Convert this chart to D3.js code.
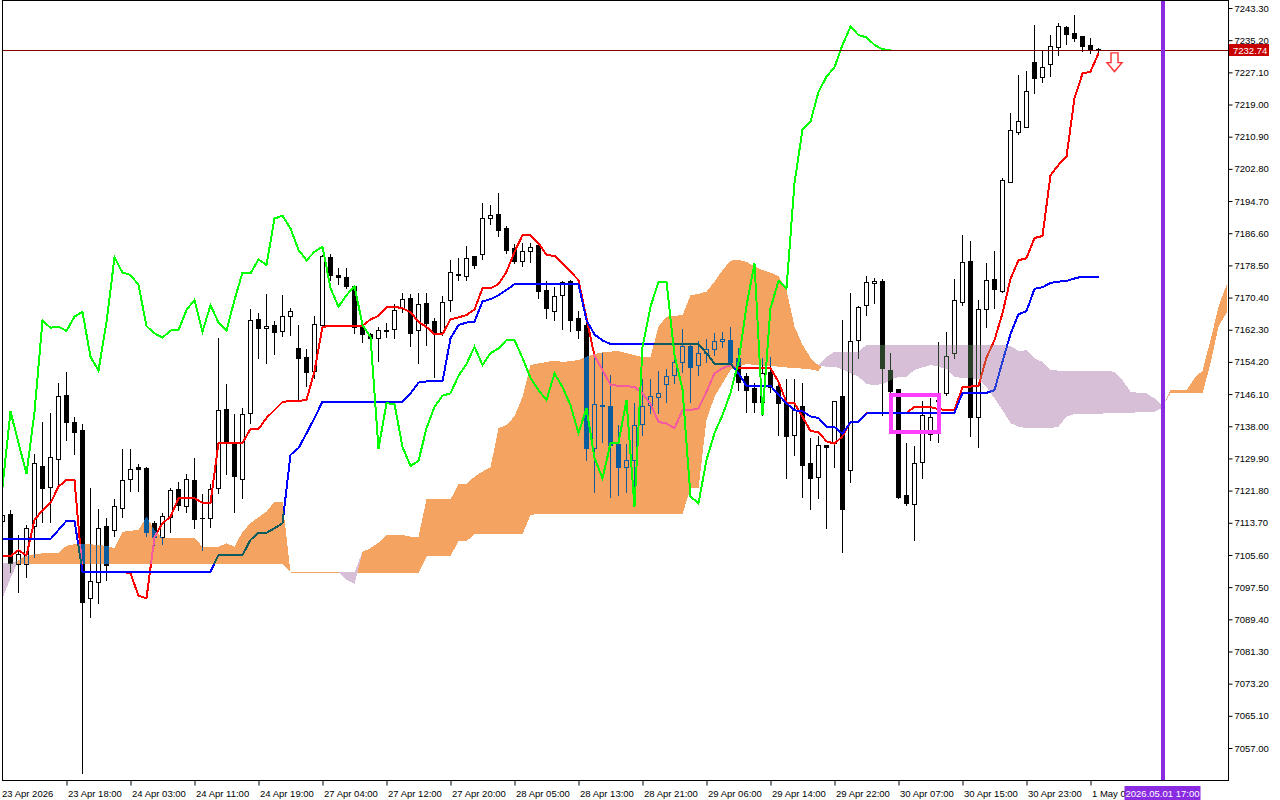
<!DOCTYPE html>
<html><head><meta charset="utf-8">
<script src="https://cdn.jsdelivr.net/npm/d3@7"></script>
<style>
html,body{margin:0;padding:0;background:#fff;overflow:hidden;}
svg{display:block;}
text{font-family:"Liberation Sans",Arial,sans-serif;font-size:9.5px;fill:#000;}
</style>
</head><body>
<svg id="chart" width="1280" height="800"></svg>
<script>
// ---------- DATA (H1 bars, index 0 = 23 Apr 10:00) ----------
const open = [
7114.1,7115.9,7103.3,7103.3,7112.9,7128.0,7122.8,7129.8,7145.9,7139.1,
7137.1,7094.8,7098.8,7112.9,7111.9,7117.4,7124.7,7127.7,7127.5,7113.6,
7110.2,7115.2,7122.2,7117.9,7124.5,7114.9,7114.9,7122.5,7142.3,7133.8,
7124.7,7141.3,7165.0,7162.7,7163.5,7162.0,7165.7,7157.7,7155.4,7151.9,
7163.5,7180.6,7176.2,7175.5,7173.4,7163.0,7161.2,7160.2,7162.1,7162.5,
7167.8,7170.3,7162.2,7169.0,7164.5,7161.7,7169.8,7176.2,7175.8,7180.9,
7181.4,7190.4,7191.4,7187.9,7182.9,7179.6,7182.1,7183.6,7172.3,7167.0,
7171.0,7174.6,7165.2,7163.5,7132.5,7143.1,7143.1,7133.5,7127.7,7129.5,
7138.6,7143.3,7145.4,7148.6,7150.9,7154.2,7158.2,7153.4,7156.4,7157.4,
7159.5,7159.7,7155.2,7150.6,7147.6,7144.1,7151.6,7148.1,7143.9,7135.8,
7143.1,7128.7,7125.2,7133.3,7133.8,7145.6,7127.0,7159.7,7168.5,7174.1,
7174.6,7152.2,7147.4,7120.7,7118.4,7129.0,7136.0,7144.4,7146.4,7156.4,
7169.3,7179.6,7140.3,7167.5,7175.1,7172.1,7199.5,7212.1,7213.3,7229.7,
7225.9,7229.2,7233.5,7238.5,7237.0,7236.3,7234.0,7232.9];
const high = [
7116.9,7117.2,7110.9,7113.4,7131.3,7139.3,7141.6,7149.1,7151.9,7140.6,
7138.8,7122.8,7117.4,7115.2,7120.0,7132.5,7132.5,7128.7,7128.0,7114.4,
7116.5,7122.8,7124.2,7126.2,7130.3,7121.2,7123.7,7160.5,7148.9,7141.3,
7142.8,7167.8,7166.7,7171.5,7164.7,7171.3,7168.0,7163.7,7157.7,7166.0,
7181.4,7181.6,7178.0,7178.0,7173.9,7164.7,7161.7,7163.2,7164.2,7169.0,
7171.8,7171.5,7171.8,7171.8,7165.5,7171.0,7180.1,7180.6,7183.6,7181.1,
7194.5,7193.9,7197.0,7188.7,7184.1,7184.4,7184.4,7184.1,7174.8,7173.3,
7174.8,7175.1,7167.3,7165.7,7156.7,7156.7,7151.2,7138.6,7133.8,7144.1,
7150.2,7150.2,7152.2,7152.7,7155.2,7162.7,7159.2,7159.7,7160.2,7161.7,
7162.0,7163.2,7157.9,7151.6,7149.1,7155.4,7155.7,7149.9,7150.2,7150.2,
7149.1,7135.3,7135.8,7133.6,7144.6,7165.0,7171.8,7168.5,7176.1,7175.6,
7175.3,7156.7,7147.6,7134.0,7133.3,7144.6,7145.4,7159.5,7162.0,7175.3,
7186.4,7184.9,7170.0,7179.3,7182.4,7200.7,7217.1,7226.7,7227.7,7239.3,
7233.0,7236.8,7239.8,7239.0,7241.8,7236.5,7236.0,7233.5];
const low = [
7111.9,7101.3,7096.3,7100.0,7105.1,7113.9,7113.9,7122.8,7134.6,7131.0,
7050.7,7090.0,7093.5,7099.3,7110.4,7115.2,7121.7,7121.7,7110.4,7108.1,
7108.4,7111.4,7116.9,7116.4,7112.4,7106.8,7112.6,7121.2,7126.0,7116.4,
7119.9,7138.8,7155.2,7153.9,7156.2,7160.7,7161.0,7144.6,7148.1,7150.1,
7163.0,7174.7,7173.7,7172.9,7161.5,7159.2,7158.2,7154.4,7160.5,7160.2,
7166.7,7158.2,7153.9,7158.5,7150.4,7161.0,7167.0,7174.8,7174.8,7177.8,
7180.1,7188.9,7185.9,7181.6,7179.1,7178.3,7179.3,7170.3,7165.2,7164.7,
7162.5,7162.0,7160.2,7129.5,7121.4,7134.1,7120.2,7120.7,7121.4,7122.5,
7135.8,7141.3,7141.3,7144.1,7148.9,7151.6,7144.1,7150.9,7154.2,7155.9,
7157.9,7153.4,7147.1,7141.6,7141.6,7140.8,7146.6,7135.8,7125.0,7130.8,
7120.2,7117.2,7119.9,7112.4,7127.7,7106.3,7124.0,7155.2,7166.0,7169.0,
7140.8,7145.1,7119.9,7118.2,7109.4,7125.0,7134.5,7134.0,7145.9,7155.2,
7168.5,7135.5,7132.8,7163.0,7167.8,7171.8,7199.5,7211.6,7213.3,7221.9,
7224.7,7226.2,7231.5,7234.2,7235.0,7232.5,7232.0,7232.2];
const close = [
7115.7,7103.6,7105.8,7112.4,7128.7,7122.5,7130.3,7145.6,7139.1,7136.6,
7093.7,7099.0,7112.4,7103.1,7117.8,7124.5,7127.2,7127.2,7111.4,7110.2,
7115.5,7122.0,7118.2,7124.7,7114.7,7114.8,7122.2,7142.1,7133.8,7125.5,
7141.1,7164.7,7162.7,7163.2,7161.7,7165.7,7167.0,7155.2,7151.6,7163.7,
7180.9,7176.2,7175.5,7173.4,7163.0,7161.2,7160.2,7162.2,7162.2,7167.3,
7170.0,7161.5,7168.8,7164.0,7161.7,7169.3,7176.8,7176.3,7180.3,7178.6,
7190.4,7191.2,7187.4,7182.4,7179.6,7182.1,7183.1,7172.1,7167.8,7170.8,
7174.3,7164.7,7162.2,7132.5,7143.6,7143.3,7133.3,7127.7,7129.5,7138.3,
7143.1,7145.6,7146.4,7150.6,7154.2,7158.2,7152.9,7156.4,7157.4,7159.5,
7160.0,7154.2,7149.1,7147.1,7144.1,7151.4,7147.9,7143.9,7135.5,7142.1,
7128.2,7124.9,7133.3,7132.8,7144.4,7117.2,7159.5,7168.0,7174.3,7174.6,
7152.7,7146.9,7120.2,7118.7,7128.7,7140.8,7140.3,7144.6,7155.7,7169.8,
7179.3,7140.3,7167.5,7174.8,7172.6,7200.0,7212.6,7214.8,7222.4,7225.7,
7228.4,7233.7,7238.8,7236.8,7235.7,7233.7,7233.0,7232.74];

// Tenkan-sen (red)
const tenkan = [
7105.3,7105.3,7106.8,7105.5,7114.4,7116.9,7118.7,7122.8,7124.5,7124.5,
7101.3,7101.3,7101.3,7101.3,7101.3,7101.3,7101.0,7095.3,7094.7,7110.1,
7113.6,7115.2,7119.9,7119.9,7119.9,7118.7,7118.7,7133.8,7133.8,7133.8,
7133.8,7137.3,7137.3,7140.1,7142.1,7144.1,7144.4,7144.4,7144.6,7151.9,
7163.0,7163.3,7163.3,7163.3,7163.3,7163.3,7164.9,7165.8,7167.9,7168.1,
7167.7,7166.7,7164.3,7163.0,7161.2,7161.2,7164.9,7165.4,7166.0,7167.4,
7172.7,7172.7,7173.8,7176.9,7181.9,7186.1,7186.1,7184.1,7181.1,7180.9,
7179.0,7176.9,7174.8,7165.2,7155.7,7152.2,7148.4,7148.2,7148.1,7147.9,
7146.3,7143.6,7139.1,7138.7,7137.5,7142.1,7142.1,7142.5,7146.7,7151.3,
7152.6,7153.4,7152.6,7152.6,7152.6,7152.6,7152.6,7149.2,7144.0,7143.8,
7140.4,7136.8,7136.5,7134.2,7133.6,7135.5,7139.1,7139.1,7141.3,7141.3,
7141.3,7141.3,7141.3,7141.3,7142.9,7142.9,7142.8,7142.3,7142.1,7142.1,
7147.8,7148.0,7148.1,7155.3,7159.7,7166.5,7175.1,7179.8,7180.3,7185.4,
7185.9,7201.2,7203.8,7205.9,7220.6,7226.8,7227.3,7231.9];
// Kijun-sen (blue)
const kijun = [
7109.6,7109.6,7109.6,7109.6,7109.6,7109.6,7109.6,7111.9,7114.2,7114.2,
7101.4,7101.4,7101.4,7101.4,7101.4,7101.4,7101.4,7101.4,7101.4,7101.4,
7101.4,7101.4,7101.4,7101.4,7101.4,7101.4,7101.4,7105.6,7105.6,7105.6,
7105.6,7109.4,7111.2,7111.2,7112.3,7113.6,7130.8,7132.5,7136.2,7140.1,
7144.2,7144.2,7144.2,7144.2,7144.2,7144.2,7144.2,7144.2,7144.2,7144.2,
7144.2,7146.3,7149.0,7149.3,7149.3,7149.3,7160.1,7163.5,7164.1,7164.3,
7169.4,7170.0,7171.0,7172.3,7173.8,7173.8,7173.8,7173.8,7173.8,7173.8,
7173.8,7173.8,7173.8,7164.7,7161.1,7159.6,7158.7,7158.7,7158.7,7158.7,
7158.7,7158.7,7158.7,7158.7,7158.7,7158.7,7158.7,7158.7,7156.4,7153.8,
7153.8,7153.8,7151.3,7148.2,7148.2,7148.2,7148.2,7145.9,7143.8,7142.0,
7141.8,7140.5,7140.1,7137.9,7137.8,7136.1,7139.1,7139.1,7141.2,7141.4,
7141.4,7141.4,7141.4,7141.4,7141.4,7141.4,7141.4,7141.4,7141.4,7141.4,
7146.4,7146.4,7146.4,7146.4,7147.1,7154.3,7161.2,7166.2,7167.0,7172.6,
7173.0,7174.1,7174.4,7174.6,7175.2,7175.7,7175.7,7175.7];
// Chikou span (green), plotted 26 bars back: index 0..111
const chikou = [
7122.8,7141.7,7133.8,7126.0,7141.6,7164.6,7162.8,7163.1,7162.0,7165.6,
7166.8,7155.5,7152.0,7164.2,7180.5,7176.7,7176.1,7173.6,7163.2,7161.4,
7160.3,7162.1,7162.2,7167.3,7169.8,7161.8,7168.5,7164.1,7162.1,7169.8,
7176.7,7176.5,7180.0,7178.6,7190.3,7191.0,7187.8,7182.4,7179.8,7181.9,
7183.2,7172.8,7168.1,7171.0,7173.3,7163.5,7160.5,7132.4,7143.8,7143.6,
7132.8,7128.0,7129.3,7137.5,7142.9,7145.7,7146.3,7150.7,7153.7,7158.0,
7153.4,7156.4,7157.6,7159.7,7159.7,7155.2,7150.1,7147.1,7144.6,7151.3,
7147.9,7143.3,7136.3,7142.5,7130.0,7124.9,7133.7,7133.9,7144.6,7117.7,
7158.0,7168.1,7174.4,7174.4,7155.9,7147.3,7120.3,7118.6,7129.5,7136.3,
7140.8,7146.4,7154.2,7168.3,7179.0,7140.8,7167.7,7174.6,7172.7,7199.2,
7212.7,7214.7,7222.2,7226.0,7228.4,7234.0,7238.6,7236.5,7235.9,7234.0,
7232.9,7232.74];
// Senkou Span A / B, plotted 26 bars ahead: visible index 0..153
const spanA = [
7094.7,7099.7,7104.3,7105.4,7105.8,7106.0,7106.0,7106.2,7107.9,7108.3,
7108.3,7108.3,7108.1,7107.9,7107.3,7111.4,7111.7,7111.9,7115.2,7111.9,
7109.8,7109.8,7109.8,7109.8,7109.8,7107.7,7107.7,7107.7,7108.5,7107.7,
7111.4,7113.6,7115.1,7116.5,7119.0,7119.0,7101.2,7101.2,7101.2,7101.2,
7101.2,7101.2,7101.2,7099.3,7098.3,7106.4,7107.3,7108.7,7110.6,7110.6,
7110.6,7110.2,7110.2,7119.6,7119.6,7119.6,7119.6,7123.4,7123.5,7125.3,
7126.6,7127.7,7137.5,7138.3,7140.5,7145.4,7153.4,7153.8,7154.2,7154.5,
7154.2,7154.4,7154.7,7155.5,7156.2,7156.6,7156.8,7156.9,7156.4,7155.9,
7155.4,7155.5,7163.1,7165.6,7165.8,7166.0,7171.0,7171.3,7171.9,7174.4,
7177.3,7179.7,7179.9,7179.4,7178.2,7177.3,7176.7,7175.8,7172.3,7163.1,
7158.5,7155.3,7153.3,7153.0,7153.0,7152.3,7151.3,7150.5,7148.6,7148.4,
7148.6,7149.6,7150.5,7150.5,7152.2,7152.8,7153.4,7153.0,7152.3,7150.5,
7150.1,7150.1,7149.8,7147.9,7145.0,7142.1,7138.8,7137.9,7137.5,7137.6,
7137.5,7137.5,7137.9,7140.4,7141.1,7141.1,7141.1,7141.1,7141.3,7141.3,
7141.4,7141.4,7141.5,7141.7,7141.7,7142.6,7147.1,7147.1,7147.1,7150.1,
7152.0,7159.7,7168.1,7173.6];
const spanB = [
7103.5,7103.5,7103.2,7103.2,7103.2,7103.2,7103.2,7103.2,7103.2,7103.2,
7103.2,7103.2,7103.2,7103.2,7103.2,7103.2,7103.2,7103.2,7103.2,7103.2,
7103.2,7103.2,7103.2,7103.2,7103.2,7103.2,7103.2,7103.2,7103.2,7103.2,
7103.2,7103.2,7103.2,7103.2,7103.2,7103.2,7101.2,7101.2,7101.2,7101.2,
7101.2,7101.2,7101.2,7101.2,7101.2,7101.1,7101.1,7101.1,7101.1,7101.1,
7101.1,7101.1,7101.1,7105.2,7105.3,7105.3,7105.3,7109.1,7109.1,7110.8,
7110.8,7110.8,7110.8,7110.8,7110.8,7110.8,7115.7,7115.9,7115.9,7115.9,
7115.9,7115.9,7115.9,7115.9,7115.9,7115.9,7115.9,7115.9,7115.9,7115.9,
7115.9,7115.9,7115.9,7115.9,7115.9,7115.9,7122.4,7122.4,7139.6,7145.4,
7148.8,7152.2,7153.0,7153.7,7153.4,7153.3,7153.2,7153.0,7152.8,7152.7,
7152.5,7152.3,7151.9,7155.4,7156.8,7156.8,7156.8,7156.8,7158.5,7158.5,
7158.5,7158.5,7158.5,7158.5,7158.5,7158.5,7158.5,7158.5,7158.5,7158.5,
7158.5,7158.5,7158.5,7158.5,7158.5,7158.5,7158.2,7157.0,7157.1,7155.1,
7154.2,7152.2,7152.0,7152.0,7152.0,7152.0,7152.0,7152.0,7152.0,7151.7,
7149.6,7146.7,7146.4,7146.3,7145.0,7143.1,7146.3,7146.3,7146.3,7146.3,
7146.3,7153.8,7163.1,7166.5];

// Axis labels
const priceTicks = [7243.3,7235.2,7227.1,7219.0,7210.9,7202.8,7194.7,7186.6,7178.5,7170.4,7162.3,7154.2,
  7146.1,7138.0,7129.9,7121.8,7113.7,7105.6,7097.5,7089.4,7081.3,7073.2,7065.1,7057.0];
const firstTimeLabel = "23 Apr 2026";
const timeTickIdx = [8,16,24,32,40,48,56,64,72,80,88,96,104,112,120,128,136];
const timeLabels = ["23 Apr 18:00","24 Apr 03:00","24 Apr 11:00","24 Apr 19:00","27 Apr 04:00","27 Apr 12:00",
  "27 Apr 20:00","28 Apr 05:00","28 Apr 13:00","28 Apr 21:00","29 Apr 06:00","29 Apr 14:00","29 Apr 22:00",
  "30 Apr 07:00","30 Apr 15:00","30 Apr 23:00","1 May 0"];
// Annotations
const currentPrice = 7232.74;
const vlineIdx = 145, vlineLabel = "2026.05.01 17:00";
const boxAnno = {i0:111, i1:117, pTop:7145.9, pBot:7136.5};
const arrowAnno = {i:139, pTop:7232.0, pTip:7227.3};

// ---------- DRAW ----------
const W = 1280, H = 800;
const P = {l:2, r:1228, t:0, b:780};
const x = d3.scaleLinear().domain([0,137]).range([2.5,1098.5]);
const y = d3.scaleLinear().domain([7057.0,7243.3]).range([748,8]);
const svg = d3.select('#chart');
svg.append('rect').attr('width',W).attr('height',H).attr('fill','#fff');
svg.append('defs').append('clipPath').attr('id','plotclip').append('rect')
  .attr('x',P.l).attr('y',P.t).attr('width',P.r-P.l).attr('height',P.b-P.t);
const g = svg.append('g').attr('clip-path','url(#plotclip)');
g.append('rect').attr('x',0).attr('y',0).attr('width',W).attr('height',H).attr('fill','#fff');

const idx = d3.range(open.length);
const cx = i => Math.floor(x(i)) + 0.5;
const py = v => Math.round(y(v)) + 0.5;
// wicks
g.append('g').attr('shape-rendering','crispEdges').selectAll('line').data(idx).join('line')
  .attr('x1',cx).attr('x2',cx).attr('y1',i=>py(high[i])).attr('y2',i=>py(low[i]))
  .attr('stroke','#000').attr('stroke-width',1);
// bodies
g.append('g').attr('shape-rendering','crispEdges').selectAll('rect').data(idx).join('rect')
  .attr('x',i=>cx(i)-2).attr('width',4)
  .attr('y',i=>py(Math.max(open[i],close[i])))
  .attr('height',i=>Math.max(0.01, py(Math.min(open[i],close[i])) - py(Math.max(open[i],close[i]))))
  .attr('fill',i=>close[i]>=open[i] ? '#fff' : '#000')
  .attr('stroke','#000').attr('stroke-width',1);

const lineGen = d3.line().x((d,i)=>x(i)).y(d=>y(d));
g.append('path').attr('d',lineGen(tenkan)).attr('fill','none').attr('stroke','#ff0000').attr('stroke-width',2)
  .attr('shape-rendering','crispEdges');
g.append('path').attr('d',lineGen(kijun)).attr('fill','none').attr('stroke','#0000ff').attr('stroke-width',2)
  .attr('shape-rendering','crispEdges');

// cloud (XOR-like look of MetaTrader via difference blending)
const cidx = d3.range(spanA.length);
const cloud = g.append('g').style('mix-blend-mode','difference').attr('shape-rendering','crispEdges');
cloud.append('path')
  .attr('d', d3.area().x(i=>x(i)).y0(i=>y(spanB[i])).y1(i=>y(Math.max(spanA[i],spanB[i])))(cidx))
  .attr('fill','#0b5b9f');
cloud.append('path')
  .attr('d', d3.area().x(i=>x(i)).y0(i=>y(spanA[i])).y1(i=>y(Math.max(spanA[i],spanB[i])))(cidx))
  .attr('fill','#274027');
cloud.append('path')
  .attr('d', d3.line().defined(i=>Math.abs(spanA[i]-spanB[i])<0.05).x(i=>x(i)).y(i=>y(spanA[i]))(cidx))
  .attr('fill','none').attr('stroke','#0b5b9f').attr('stroke-width',1);

g.append('path').attr('d',lineGen(chikou)).attr('fill','none').attr('stroke','#00ff00').attr('stroke-width',2)
  .attr('shape-rendering','crispEdges');

// current price line
g.append('line').attr('x1',P.l).attr('x2',P.r).attr('y1',py(currentPrice)).attr('y2',py(currentPrice))
  .attr('stroke','#800000').attr('stroke-width',1).attr('shape-rendering','crispEdges');

// rectangle annotation
g.append('rect').attr('x',x(boxAnno.i0)).attr('y',y(boxAnno.pTop))
  .attr('width',x(boxAnno.i1)-x(boxAnno.i0)).attr('height',y(boxAnno.pBot)-y(boxAnno.pTop))
  .attr('fill','none').attr('stroke','#ff40ff').attr('stroke-width',4).attr('shape-rendering','crispEdges');

// arrow
{
  const ax = x(arrowAnno.i), t = y(arrowAnno.pTop), tip = y(arrowAnno.pTip), mid = t + (tip-t)*0.52;
  g.append('path').attr('d',`M${ax-3.5},${t}L${ax+3.5},${t}L${ax+3.5},${mid}L${ax+7.5},${mid}L${ax},${tip}L${ax-7.5},${mid}L${ax-3.5},${mid}Z`)
    .attr('fill','#fff').attr('stroke','#ff3030').attr('stroke-width',1.4);
}

// vertical line
g.append('line').attr('x1',x(vlineIdx)).attr('x2',x(vlineIdx)).attr('y1',P.t).attr('y2',P.b)
  .attr('stroke','#8a2be2').attr('stroke-width',4).attr('shape-rendering','crispEdges');

// frame
svg.append('rect').attr('x',P.l+0.5).attr('y',P.t+0.5).attr('width',P.r-P.l).attr('height',P.b-P.t)
  .attr('fill','none').attr('stroke','#000').attr('stroke-width',1).attr('shape-rendering','crispEdges');

// right axis
const ya = svg.append('g').attr('transform',`translate(${P.r+0.5},0)`)
  .call(d3.axisRight(y).tickValues(priceTicks).tickFormat(d3.format('.2f')).tickSize(4).tickPadding(2));
ya.select('.domain').remove();
ya.selectAll('line').attr('stroke','#000');
ya.selectAll('text').style('font-family','"Liberation Sans",Arial,sans-serif').style('font-size','9.5px');

// bottom axis
const xa = svg.append('g').attr('transform',`translate(0,${P.b+0.5})`)
  .call(d3.axisBottom(x).tickValues(timeTickIdx).tickFormat((d,k)=>timeLabels[k]).tickSize(5));
xa.select('.domain').remove();
xa.selectAll('line').attr('stroke','#000');
xa.selectAll('text').attr('text-anchor','start').attr('x',1).attr('y',10)
  .style('font-family','"Liberation Sans",Arial,sans-serif').style('font-size','9.5px');
svg.append('text').attr('x',x(0)-0.5).attr('y',P.b+17).text(firstTimeLabel);

// current price tag
{
  const yy = py(currentPrice);
  svg.append('rect').attr('x',P.r+1).attr('y',yy-6.5).attr('width',40).attr('height',12).attr('fill','#c80000');
  svg.append('text').attr('x',P.r+5).attr('y',yy+3.5).style('fill','#fff').text(currentPrice.toFixed(2));
}
// vertical line time tag
{
  const vx = x(vlineIdx);
  svg.append('rect').attr('x',vx-38).attr('y',P.b+6).attr('width',76).attr('height',14).attr('fill','#8a2be2');
  svg.append('text').attr('x',vx).attr('y',P.b+17).attr('text-anchor','middle').style('fill','#fff').text(vlineLabel);
}
</script>
</body></html>
